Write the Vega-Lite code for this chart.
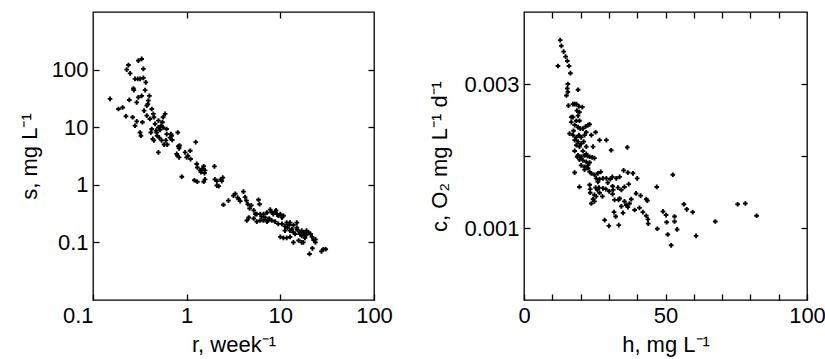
{
  "$schema": "https://vega.github.io/schema/vega-lite/v6.json",
  "padding": {"left": 17, "top": 10, "right": 5, "bottom": 5},
  "spacing": 150,
  "bounds": "flush",
  "config": {
    "font": "Liberation Sans",
    "view": {"stroke": "black", "strokeWidth": 1.3},
    "axis": {"domain": false, "grid": false, "ticks": true, "tickColor": "black", "tickWidth": 1.3, "tickSize": -6, "labelPadding": 11, "labelFontSize": 22, "labelColor": "black", "labelFont": "Liberation Sans", "titleFont": "Liberation Sans", "titleFontSize": 22, "titleFontWeight": "normal", "titleColor": "black", "labelFlush": false, "labelOverlap": false}
  },
  "datasets": {
    "left": [
      {"r":0.152,"s":31},{"r":0.187,"s":20.7},{"r":0.207,"s":22},{"r":0.225,"s":15.5},{"r":0.229,"s":100},{"r":0.239,"s":120},{"r":0.249,"s":86},{"r":0.244,"s":29.7},{"r":0.265,"s":14.9},{"r":0.281,"s":10.6},{"r":0.293,"s":12.6},{"r":0.27,"s":47},{"r":0.273,"s":44},{"r":0.281,"s":69},{"r":0.3,"s":69},{"r":0.318,"s":69},{"r":0.345,"s":72},{"r":0.305,"s":143},{"r":0.331,"s":153},{"r":0.345,"s":103},{"r":0.366,"s":60},{"r":0.305,"s":33},{"r":0.331,"s":35},{"r":0.293,"s":27},{"r":0.318,"s":8.1},{"r":0.325,"s":7.1},{"r":0.375,"s":23.7},{"r":0.4,"s":35},{"r":0.385,"s":25},{"r":0.351,"s":19.4},{"r":0.375,"s":15.9},{"r":0.337,"s":12.2},{"r":0.405,"s":13.9},{"r":0.424,"s":20.7},{"r":0.441,"s":17},{"r":0.447,"s":14.9},{"r":0.46,"s":11.4},{"r":0.424,"s":9.3},{"r":0.415,"s":8.1},{"r":0.435,"s":6.25},{"r":0.447,"s":5.9},{"r":0.478,"s":8.1},{"r":0.499,"s":9.9},{"r":0.52,"s":9},{"r":0.533,"s":10.6},{"r":0.551,"s":12.2},{"r":0.484,"s":7.1},{"r":0.51,"s":6.6},{"r":0.54,"s":5.9},{"r":0.56,"s":9.9},{"r":0.589,"s":17},{"r":0.56,"s":14.9},{"r":0.499,"s":3.66},{"r":0.574,"s":5},{"r":0.612,"s":7.6},{"r":0.665,"s":6.6},{"r":0.68,"s":7.6},{"r":0.69,"s":7.1},{"r":0.6,"s":5.9},{"r":0.62,"s":5},{"r":0.804,"s":8.1},{"r":0.817,"s":4.66},{"r":0.83,"s":4.3},{"r":0.84,"s":4.8},{"r":0.783,"s":3.43},{"r":0.8,"s":3.2},{"r":0.83,"s":3},{"r":0.887,"s":1.38},{"r":0.962,"s":3.66},{"r":1.03,"s":3.2},{"r":1.09,"s":3.9},{"r":1.1,"s":2.8},{"r":1.25,"s":5.5},{"r":1.28,"s":2.3},{"r":1.3,"s":2},{"r":1.39,"s":1.78},{"r":1.42,"s":1.66},{"r":1.47,"s":1.9},{"r":1.52,"s":2.1},{"r":1.57,"s":1.78},{"r":1.55,"s":1.6},{"r":1.21,"s":1.2},{"r":1.3,"s":1.13},{"r":1.52,"s":1.13},{"r":1.57,"s":1.24},{"r":1.98,"s":2.09},{"r":2,"s":1.24},{"r":2.1,"s":1.16},{"r":2.1,"s":0.97},{"r":2.2,"s":0.95},{"r":2.31,"s":1.24},{"r":2.43,"s":1.33},{"r":2.37,"s":1.16},
      {"r":2.47,"s":0.45},{"r":2.79,"s":0.53},{"r":3.16,"s":0.65},{"r":3.3,"s":0.7},{"r":3.5,"s":0.6},{"r":3.73,"s":0.52},{"r":4.04,"s":0.76},{"r":4.2,"s":0.61},{"r":4.35,"s":0.53},{"r":4.5,"s":0.46},{"r":4.7,"s":0.39},{"r":4.9,"s":0.44},{"r":5.2,"s":0.36},{"r":5.4,"s":0.31},{"r":5.85,"s":0.55},{"r":6,"s":0.46},{"r":5.6,"s":0.31},{"r":4.39,"s":0.24},{"r":4.6,"s":0.27},{"r":6.1,"s":0.31},{"r":6.3,"s":0.28},{"r":6.6,"s":0.31},{"r":6.9,"s":0.27},{"r":7.2,"s":0.33},{"r":7.8,"s":0.37},{"r":8.1,"s":0.33},{"r":8.4,"s":0.31},{"r":8.8,"s":0.34},{"r":9.2,"s":0.31},{"r":9.5,"s":0.29},{"r":10,"s":0.31},{"r":10.4,"s":0.27},{"r":10.8,"s":0.29},{"r":7.2,"s":0.23},{"r":7.4,"s":0.24},{"r":5.6,"s":0.23},{"r":6.1,"s":0.24},{"r":8.1,"s":0.24},{"r":8.8,"s":0.23},{"r":9.5,"s":0.21},{"r":10.4,"s":0.21},{"r":11.2,"s":0.19},{"r":11.7,"s":0.22},{"r":11.9,"s":0.18},{"r":12.5,"s":0.2},{"r":12.7,"s":0.16},{"r":13.3,"s":0.17},{"r":13.8,"s":0.15},{"r":14.4,"s":0.14},{"r":15,"s":0.22},{"r":15.2,"s":0.165},{"r":16.2,"s":0.15},{"r":16.9,"s":0.16},{"r":17.6,"s":0.15},{"r":16.9,"s":0.13},{"r":18.3,"s":0.14},{"r":19,"s":0.16},{"r":20,"s":0.15},{"r":21,"s":0.14},{"r":21.8,"s":0.125},{"r":13.8,"s":0.1},{"r":15.7,"s":0.108},{"r":16.9,"s":0.1},{"r":10,"s":0.125},{"r":10.8,"s":0.12},{"r":11.7,"s":0.12},{"r":12.7,"s":0.125},{"r":22.7,"s":0.11},{"r":23.7,"s":0.113},{"r":20.5,"s":0.063},{"r":22,"s":0.079},{"r":27.5,"s":0.07},{"r":28.8,"s":0.076},{"r":30.5,"s":0.076},{"r":17.6,"s":0.1},{"r":18.3,"s":0.12},{"r":23.7,"s":0.1},{"r":13.8,"s":0.2},{"r":15,"s":0.18},{"r":12.7,"s":0.22},{"r":9,"s":0.36},{"r":7.6,"s":0.26},{"r":6.6,"s":0.24},{"r":11.2,"s":0.16},{"r":0.5,"s":13},{"r":0.47,"s":8.7},{"r":0.39,"s":29},{"r":0.36,"s":44},{"r":0.61,"s":9.3},{"r":0.7,"s":6},{"r":1,"s":3},{"r":5.2,"s":0.26},{"r":3.6,"s":0.56},{"r":16.2,"s":0.14},{"r":19,"s":0.135}
    ],
    "right": [
      {"h":12.8,"c":0.00361},{"h":13.2,"c":0.00353},{"h":14.0,"c":0.00345},{"h":14.7,"c":0.00338},{"h":15.3,"c":0.00332},{"h":12.0,"c":0.00325},{"h":15.9,"c":0.00325},{"h":16.4,"c":0.00315},{"h":15.5,"c":0.003},{"h":15.3,"c":0.00294},{"h":19.1,"c":0.00292},{"h":15.0,"c":0.00284},{"h":15.5,"c":0.00289},{"h":15.7,"c":0.0027},{"h":17.3,"c":0.00272},{"h":17.9,"c":0.00272},{"h":18.5,"c":0.00272},{"h":19.4,"c":0.00269},{"h":20.6,"c":0.00268},{"h":18.7,"c":0.00263},{"h":19.6,"c":0.00261},{"h":16.7,"c":0.00254},{"h":17.3,"c":0.00254},{"h":18.5,"c":0.00249},{"h":19.6,"c":0.00249},{"h":17.9,"c":0.00243},{"h":19.1,"c":0.0024},{"h":19.9,"c":0.00238},{"h":20.8,"c":0.00238},{"h":21.8,"c":0.00241},{"h":22.6,"c":0.00243},{"h":23.2,"c":0.00244},{"h":16.1,"c":0.00231},{"h":17.3,"c":0.00229},{"h":18.5,"c":0.00226},{"h":19.4,"c":0.00229},{"h":20.2,"c":0.00226},{"h":21.4,"c":0.00229},{"h":17.9,"c":0.00222},{"h":19.1,"c":0.0022},{"h":20.2,"c":0.00217},{"h":21.1,"c":0.0022},{"h":18.5,"c":0.00215},{"h":19.6,"c":0.00213},{"h":22.0,"c":0.00213},{"h":23.8,"c":0.00229},{"h":25.3,"c":0.00233},{"h":26.7,"c":0.00222},{"h":29.1,"c":0.00222},{"h":30.8,"c":0.00208},{"h":36.5,"c":0.00212},{"h":17.9,"c":0.00207},{"h":19.1,"c":0.00201},{"h":20.2,"c":0.00199},{"h":21.4,"c":0.00201},{"h":22.4,"c":0.002},{"h":23.2,"c":0.00199},{"h":24.1,"c":0.00198},{"h":24.9,"c":0.00197},{"h":19.6,"c":0.00195},{"h":20.8,"c":0.00194},{"h":22.0,"c":0.00192},{"h":23.2,"c":0.00191},{"h":20.2,"c":0.00187},{"h":21.4,"c":0.00185},{"h":22.6,"c":0.00187},{"h":17.9,"c":0.00177},{"h":23.2,"c":0.00178},{"h":23.8,"c":0.00176},{"h":24.9,"c":0.00174},{"h":26.1,"c":0.00176},{"h":27.1,"c":0.00178},{"h":25.5,"c":0.00169},{"h":26.7,"c":0.00168},{"h":27.9,"c":0.00169},{"h":29.1,"c":0.00169},{"h":30.5,"c":0.00168},{"h":31.2,"c":0.00171},{"h":32.6,"c":0.00169},{"h":33.8,"c":0.00171},{"h":35.2,"c":0.0018},{"h":36.7,"c":0.00177},{"h":38.5,"c":0.00176},{"h":40.0,"c":0.00169},{"h":52.6,"c":0.00174},{"h":46.9,"c":0.00157},{"h":19.6,"c":0.00157},{"h":23.2,"c":0.0016},{"h":23.4,"c":0.00154},{"h":23.4,"c":0.00149},{"h":25.3,"c":0.00156},{"h":25.9,"c":0.00153},{"h":26.5,"c":0.00156},{"h":25.5,"c":0.00144},{"h":24.4,"c":0.0014},{"h":23.8,"c":0.00134},{"h":24.9,"c":0.00137},{"h":27.9,"c":0.00155},{"h":28.9,"c":0.00154},{"h":30.1,"c":0.00151},{"h":31.5,"c":0.00153},{"h":31.3,"c":0.00147},{"h":34.4,"c":0.00153},{"h":35.5,"c":0.00157},{"h":37.0,"c":0.00161},{"h":28.5,"c":0.00111},{"h":30.0,"c":0.00103},{"h":31.8,"c":0.00122},{"h":32.4,"c":0.00116},{"h":33.4,"c":0.00139},{"h":33.5,"c":0.00104},{"h":34.4,"c":0.0013},{"h":35.0,"c":0.00121},{"h":35.5,"c":0.00137},{"h":36.1,"c":0.00132},{"h":36.7,"c":0.00129},{"h":37.3,"c":0.00134},{"h":39.1,"c":0.00125},{"h":40.8,"c":0.00128},{"h":41.2,"c":0.00145},{"h":43.2,"c":0.0014},{"h":43.6,"c":0.00138},{"h":42.0,"c":0.00122},{"h":43.2,"c":0.00117},{"h":43.8,"c":0.00112},{"h":43.9,"c":0.00106},{"h":47.1,"c":0.00099},{"h":49.1,"c":0.00123},{"h":50.2,"c":0.00118},{"h":50.4,"c":0.00108},{"h":50.8,"c":0.00091},{"h":52.0,"c":0.00076},{"h":53.2,"c":0.00116},{"h":53.2,"c":0.00109},{"h":54.1,"c":0.00098},{"h":56.5,"c":0.00133},{"h":57.5,"c":0.00126},{"h":59.6,"c":0.00122},{"h":60.8,"c":0.00089},{"h":67.6,"c":0.00109},{"h":75.5,"c":0.00133},{"h":78.2,"c":0.00134},{"h":82.2,"c":0.00117},{"h":24.9,"c":0.00146},{"h":26.7,"c":0.00149},{"h":33.2,"c":0.00156},{"h":39.6,"c":0.00148},{"h":33.8,"c":0.00141},{"h":31.3,"c":0.00158},{"h":20.8,"c":0.00207},{"h":18.8,"c":0.00199},{"h":22.0,"c":0.00203},{"h":17.5,"c":0.00235},{"h":16.7,"c":0.00247},{"h":19.1,"c":0.00256},{"h":22.0,"c":0.00233},{"h":24.4,"c":0.00213},{"h":22.6,"c":0.00183},{"h":21.4,"c":0.00181},{"h":26.1,"c":0.00164},{"h":29.6,"c":0.00163},{"h":32.0,"c":0.00139},{"h":27.7,"c":0.00144},{"h":37.9,"c":0.0014}
    ]
  },
  "hconcat": [
    {
      "width": 281,
      "height": 288,
      "data": {"name": "left"},
      "resolve": {"axis": {"x": "independent", "y": "independent"}},
      "layer": [
        {
          "mark": {"type": "point", "shape": "cross", "filled": true, "size": 22, "color": "black", "opacity": 1},
          "encoding": {
            "x": {"field": "r", "type": "quantitative", "scale": {"type": "log", "domain": [0.1, 100], "nice": false},
                  "axis": {"orient": "bottom", "values": [0.1, 1, 10, 100], "format": "~g", "title": "r, week⁻¹", "titlePadding": 8, "labelAlign": {"expr": "datum.value < 0.5 ? 'right' : 'center'"}}},
            "y": {"field": "s", "type": "quantitative", "scale": {"type": "log", "domain": [0.01, 1000], "nice": false},
                  "axis": {"orient": "left", "values": [0.1, 1, 10, 100], "format": "~g", "title": "s, mg L⁻¹", "titlePadding": 10}}
          }
        },
        {
          "mark": {"type": "point", "opacity": 0},
          "encoding": {
            "x": {"field": "r", "type": "quantitative", "scale": {"type": "log", "domain": [0.1, 100], "nice": false},
                  "axis": {"orient": "top", "values": [1, 10], "labels": false, "title": null}},
            "y": {"field": "s", "type": "quantitative", "scale": {"type": "log", "domain": [0.01, 1000], "nice": false},
                  "axis": {"orient": "right", "values": [0.1, 1, 10, 100], "labels": false, "title": null}}
          }
        }
      ]
    },
    {
      "width": 283,
      "height": 288,
      "data": {"name": "right"},
      "resolve": {"axis": {"x": "independent", "y": "independent"}},
      "layer": [
        {
          "mark": {"type": "point", "shape": "cross", "filled": true, "size": 22, "color": "black", "opacity": 1},
          "encoding": {
            "x": {"field": "h", "type": "quantitative", "scale": {"domain": [0, 100], "nice": false},
                  "axis": {"orient": "bottom", "values": [0, 10, 20, 30, 40, 50, 60, 70, 80, 90, 100], "labelExpr": "datum.value % 50 == 0 ? datum.label : ''", "format": "d", "title": "h, mg L⁻¹", "titlePadding": 8}},
            "y": {"field": "c", "type": "quantitative", "scale": {"domain": [0, 0.004], "nice": false},
                  "axis": {"orient": "left", "values": [0.001, 0.002, 0.003], "format": ".3f", "labelExpr": "datum.value > 0.0015 && datum.value < 0.0025 ? '' : datum.label", "title": "c, O₂ mg L⁻¹ d⁻¹", "titlePadding": 12}}
          }
        },
        {
          "mark": {"type": "point", "opacity": 0},
          "encoding": {
            "x": {"field": "h", "type": "quantitative", "scale": {"domain": [0, 100], "nice": false},
                  "axis": {"orient": "top", "values": [10, 20, 30, 40, 50, 60, 70, 80, 90], "labels": false, "title": null}},
            "y": {"field": "c", "type": "quantitative", "scale": {"domain": [0, 0.004], "nice": false},
                  "axis": {"orient": "right", "values": [0.001, 0.002, 0.003], "labels": false, "title": null}}
          }
        }
      ]
    }
  ]
}
